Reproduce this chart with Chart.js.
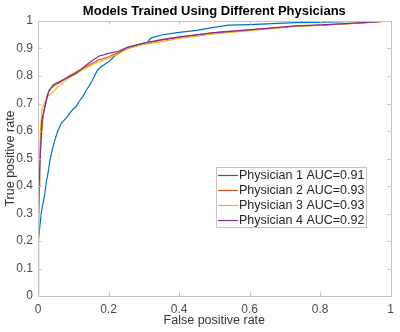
<!DOCTYPE html>
<html>
<head>
<meta charset="utf-8">
<title>ROC curves</title>
<script src="https://cdn.jsdelivr.net/npm/chart.js@4/dist/chart.umd.min.js"></script>
<style>
  html, body { margin: 0; padding: 0; background: #fff; }
  #wrap { width: 400px; height: 332px; }
</style>
</head>
<body>
<div id="wrap"><canvas id="rocChart"></canvas></div>
<script>
// ROC points per physician model (false positive rate / true positive rate)
var p1Fpr = [0, 0, 0.002, 0.005, 0.009, 0.013, 0.018, 0.022, 0.026, 0.030, 0.034, 0.040, 0.048, 0.056, 0.066, 0.080, 0.090, 0.100, 0.108, 0.118, 0.127, 0.138, 0.150, 0.160, 0.169, 0.180, 0.200, 0.220, 0.247, 0.280, 0.310, 0.320, 0.350, 0.395, 0.450, 0.490, 0.540, 0.600, 0.730, 0.820, 0.920, 1];
var p1Tpr = [0, 0.13, 0.20, 0.25, 0.30, 0.33, 0.36, 0.40, 0.43, 0.46, 0.495, 0.53, 0.568, 0.60, 0.629, 0.647, 0.665, 0.68, 0.689, 0.71, 0.725, 0.75, 0.774, 0.80, 0.822, 0.835, 0.852, 0.875, 0.90, 0.912, 0.922, 0.938, 0.949, 0.958, 0.966, 0.975, 0.985, 0.987, 0.994, 0.996, 0.999, 1];

var p2Fpr = [0, 0.001, 0.003, 0.005, 0.008, 0.011, 0.015, 0.020, 0.025, 0.032, 0.045, 0.060, 0.088, 0.116, 0.144, 0.172, 0.200, 0.228, 0.255, 0.300, 0.350, 0.400, 0.500, 0.590, 0.730, 0.820, 0.920, 1];
var p2Tpr = [0, 0.20, 0.40, 0.50, 0.56, 0.60, 0.66, 0.69, 0.725, 0.75, 0.765, 0.775, 0.80, 0.82, 0.84, 0.858, 0.87, 0.885, 0.90, 0.918, 0.93, 0.94, 0.958, 0.967, 0.981, 0.986, 0.993, 1];

var p3Fpr = [0, 0.002, 0.004, 0.007, 0.011, 0.020, 0.030, 0.039, 0.053, 0.070, 0.090, 0.116, 0.144, 0.172, 0.200, 0.228, 0.255, 0.300, 0.350, 0.400, 0.500, 0.600, 0.730, 0.820, 0.920, 1];
var p3Tpr = [0, 0.30, 0.50, 0.60, 0.677, 0.707, 0.73, 0.738, 0.756, 0.775, 0.795, 0.815, 0.835, 0.852, 0.865, 0.88, 0.90, 0.915, 0.925, 0.937, 0.953, 0.965, 0.98, 0.986, 0.993, 1];

var p4Fpr = [0, 0, 0.003, 0.006, 0.011, 0.020, 0.030, 0.043, 0.071, 0.108, 0.144, 0.172, 0.200, 0.228, 0.255, 0.300, 0.350, 0.400, 0.500, 0.590, 0.730, 0.820, 0.920, 1];
var p4Tpr = [0, 0.20, 0.40, 0.495, 0.64, 0.69, 0.743, 0.768, 0.786, 0.81, 0.847, 0.872, 0.882, 0.89, 0.905, 0.92, 0.932, 0.942, 0.958, 0.967, 0.982, 0.987, 0.994, 1];

var seriesNames = ['Physician 1 AUC=0.91', 'Physician 2 AUC=0.93', 'Physician 3 AUC=0.93', 'Physician 4 AUC=0.92'];
var seriesColors = ['#0072BD', '#D95319', '#EDB120', '#7E2F8E'];

var xTicks = [0, 0.2, 0.4, 0.6, 0.8, 1];
var yTicks = [0, 0.1, 0.2, 0.3, 0.4, 0.5, 0.6, 0.7, 0.8, 0.9, 1];

function toPoints(xs, ys) {
    var pts = [];
    for (var i = 0; i < xs.length; i++) pts.push({ x: xs[i], y: ys[i] });
    return pts;
}

var curves = [toPoints(p1Fpr, p1Tpr), toPoints(p2Fpr, p2Tpr), toPoints(p3Fpr, p3Tpr), toPoints(p4Fpr, p4Tpr)];

Chart.defaults.font.family = '"Liberation Sans", Arial, sans-serif';
Chart.defaults.color = '#4d4d4d';

// box around the axes with inward ticks on all four sides
var axesBox = {
    id: 'axesBox',
    afterDraw: function (chart) {
        var ctx = chart.ctx, a = chart.chartArea;
        var sx = chart.scales.x, sy = chart.scales.y;
        var len = 3.5;
        ctx.save();
        ctx.strokeStyle = '#c4c4c4';
        ctx.lineWidth = 1;
        ctx.strokeRect(Math.round(a.left) + 0.5, Math.round(a.top) + 0.5,
            Math.round(a.right - a.left), Math.round(a.bottom - a.top));
        ctx.beginPath();
        xTicks.forEach(function (v) {
            var px = Math.round(sx.getPixelForValue(v)) + 0.5;
            ctx.moveTo(px, a.bottom); ctx.lineTo(px, a.bottom - len);
            ctx.moveTo(px, a.top); ctx.lineTo(px, a.top + len);
        });
        yTicks.forEach(function (v) {
            var py = Math.round(sy.getPixelForValue(v)) + 0.5;
            ctx.moveTo(a.left, py); ctx.lineTo(a.left + len, py);
            ctx.moveTo(a.right, py); ctx.lineTo(a.right - len, py);
        });
        ctx.stroke();
        ctx.restore();
    }
};

// legend drawn inside the plot, lower right
var innerLegend = {
    id: 'innerLegend',
    afterDraw: function (chart) {
        var ctx = chart.ctx;
        var bx = 216.5, by = 167.5, bw = 150, bh = 60;
        ctx.save();
        ctx.fillStyle = '#fff';
        ctx.fillRect(bx, by, bw, bh);
        ctx.strokeStyle = '#c4c4c4';
        ctx.lineWidth = 1;
        ctx.strokeRect(bx, by, bw, bh);
        ctx.font = '12.5px "Liberation Sans", Arial, sans-serif';
        ctx.textBaseline = 'middle';
        ctx.textAlign = 'left';
        for (var i = 0; i < seriesNames.length; i++) {
            var y = 175.5 + i * 15;
            ctx.strokeStyle = seriesColors[i];
            ctx.lineWidth = 1.2;
            ctx.beginPath();
            ctx.moveTo(218, y); ctx.lineTo(238, y);
            ctx.stroke();
            ctx.fillStyle = '#262626';
            ctx.fillText(seriesNames[i], 239, y + 0.5);
        }
        ctx.restore();
    }
};

var datasets = curves.map(function (pts, i) {
    return {
        label: seriesNames[i],
        data: pts,
        borderColor: seriesColors[i],
        backgroundColor: seriesColors[i],
        borderWidth: 1.2,
        pointRadius: 0,
        tension: 0,
        fill: false,
        order: 3 - i
    };
});

new Chart(document.getElementById('rocChart').getContext('2d'), {
    type: 'line',
    data: { datasets: datasets },
    options: {
        responsive: true,
        maintainAspectRatio: false,
        animation: false,
        layout: { padding: { left: 0, right: 3, top: 0, bottom: 0 } },
        plugins: {
            legend: { display: false },
            tooltip: { enabled: false },
            title: {
                display: true,
                text: 'Models Trained Using Different Physicians',
                fullSize: false,
                color: '#000',
                font: { size: 13, weight: 'bold' },
                padding: { top: 4, bottom: 1.4 }
            }
        },
        scales: {
            x: {
                type: 'linear',
                min: 0,
                max: 1,
                afterBuildTicks: function (scale) {
                    scale.ticks = xTicks.map(function (v) { return { value: v }; });
                },
                ticks: {
                    padding: 6,
                    maxRotation: 0,
                    font: { size: 12 },
                    color: '#4d4d4d',
                    callback: function (v) { return String(v); }
                },
                grid: { display: false, drawTicks: false },
                border: { display: false },
                title: {
                    display: true,
                    text: 'False positive rate',
                    color: '#333',
                    font: { size: 12.5 },
                    padding: { top: 0, bottom: 3.5 }
                },
                afterFit: function (scale) { scale.height = 36; }
            },
            y: {
                type: 'linear',
                min: 0,
                max: 1,
                afterBuildTicks: function (scale) {
                    scale.ticks = yTicks.map(function (v) { return { value: v }; });
                },
                ticks: {
                    padding: 5,
                    font: { size: 12 },
                    color: '#4d4d4d',
                    callback: function (v) { return String(v); }
                },
                grid: { display: false, drawTicks: false },
                border: { display: false },
                title: {
                    display: true,
                    text: 'True positive rate',
                    color: '#333',
                    font: { size: 12.5 },
                    padding: { top: 3, bottom: 0 }
                },
                afterFit: function (scale) { scale.width = 38; }
            }
        }
    },
    plugins: [axesBox, innerLegend]
});
</script>
</body>
</html>
